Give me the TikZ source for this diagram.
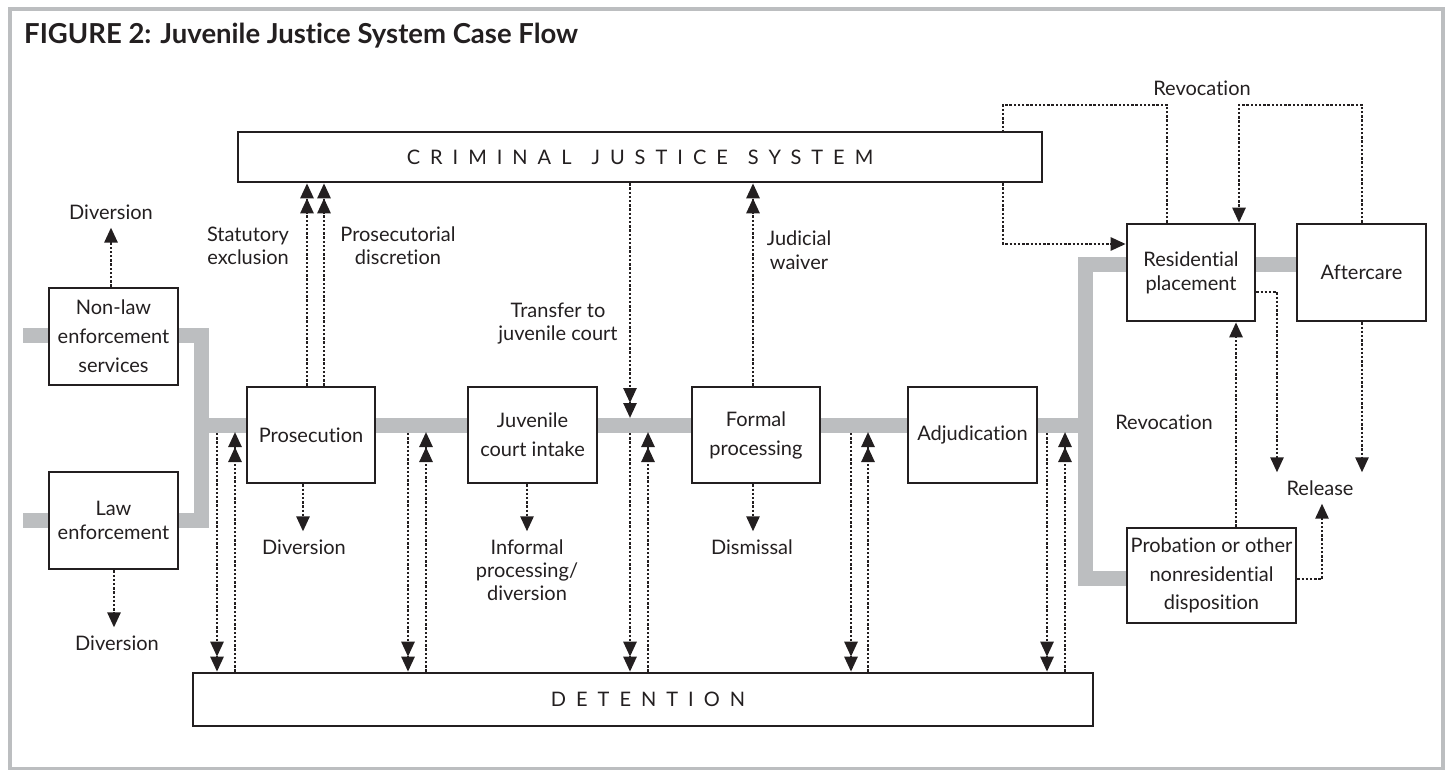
\documentclass[tikz,border=0pt]{standalone}
\usepackage{fontspec}
\setmainfont{Lato}[Ligatures=NoCommon]
\usetikzlibrary{arrows.meta}
\pgfdeclarelayer{bg}
\pgfsetlayers{bg,main}
\definecolor{flowgray}{HTML}{BCBEC0}
\definecolor{ink}{HTML}{231F20}
\tikzset{
  box/.style={draw=ink, line width=2.6pt, fill=white, align=center, inner sep=0pt, text=ink},
  lbl/.style={align=center, inner xsep=0pt, inner ysep=8pt, text=ink},
  dots/.style={draw=ink, line width=2.6pt, dash pattern=on 2.4pt off 1.8pt},
  tipone/.style={-{Triangle[length=15pt,width=13pt]}},
  tiptwo/.style={-{Triangle[length=15pt,width=13pt,sep=0pt]Triangle[length=15pt,width=13pt]}},
  flow/.style={draw=flowgray, line width=15pt, line join=miter},
  spaced/.style={font=\fontsize{20}{23}\selectfont\addfontfeature{LetterSpace=50}}
}
\begin{document}
\begin{tikzpicture}[x=1pt,y=-1pt,font=\fontsize{20}{23}\selectfont]
\useasboundingbox (0,0) rectangle (1448,770);

% title
\node[anchor=base west, inner sep=0pt, text=ink, font=\bfseries\fontsize{27.5}{32}\selectfont] (title) at (24,44) {FIGURE 2: Juvenile Justice System Case Flow};

% boxes
\node[box, minimum width=804pt, minimum height=50pt] (cjs) at (640,157) {};
\node[spaced, text=ink, inner sep=0pt] (cjst) at (cjs.center) {CRIMINAL\hspace{20pt}JUSTICE\hspace{20pt}SYSTEM};
\node[box, minimum width=900pt, minimum height=53pt] (det) at (643,699.5) {};
\node[spaced, text=ink, inner sep=0pt] (dett) at (648,699.5) {DETENTION};

\node[box, minimum width=129pt, minimum height=97pt] (nle) at (113.5,336.5) {Non-law\\[6pt]enforcement\\[6pt]services};
\node[box, minimum width=129pt, minimum height=97pt] (le) at (113.5,520.5) {Law\\[1pt]enforcement};
\node[box, minimum width=128pt, minimum height=96pt] (pros) at (311,435) {Prosecution};
\node[box, minimum width=129pt, minimum height=96pt] (intake) at (532.5,435) {Juvenile\\[6pt]court intake};
\node[box, minimum width=128pt, minimum height=96pt] (formal) at (756,435) {Formal\\[6pt]processing};
\node[box, minimum width=129pt, minimum height=96pt] (adj) at (972.5,435) {Adjudication};
\node[box, minimum width=128pt, minimum height=97pt] (res) at (1191,272.5) {Residential\\[1pt]placement};
\node[box, minimum width=129pt, minimum height=97pt] (after) at (1361.5,272.5) {Aftercare};
\node[box, minimum width=169pt, minimum height=95pt] (prob) at (1211.5,575.5) {Probation or other\\[5.5pt]nonresidential\\[5.5pt]disposition};

% labels
\node[lbl] (div1) at (111,212) {Diversion};
\node[lbl] (div2) at (117,643) {Diversion};
\node[lbl] (div3) at (304,547) {Diversion};
\node[lbl] (inf) at (527,570) {Informal\\processing/\\diversion};
\node[lbl] (dis) at (752,547) {Dismissal};
\node[lbl, align=right, anchor=east] (stat) at (289,246) {Statutory\\exclusion};
\node[lbl] (prd) at (398,246) {Prosecutorial\\discretion};
\node[lbl] (trf) at (558,324) {Transfer to\\juvenile court};
\node[lbl] (jud) at (799,250) {Judicial\\[1pt]waiver};
\node[lbl] (rev1) at (1202,88) {Revocation};
\node[lbl] (rev2) at (1164,422) {Revocation};
\node[lbl] (rel) at (1320,488) {Release};

% helper coordinates
\coordinate (inA) at (23,335);
\coordinate (inB) at (23,520);
\coordinate (j1) at (201,425);
\coordinate (j2) at (1085,425);
\coordinate (rA) at (1085,264);
\coordinate (rB) at (1085,578);

% gray flow and frame
\begin{pgfonlayer}{bg}
\draw[flowgray, line width=4pt] (10,9.5) rectangle (1442.5,768.5);
\draw[flow] (inA) -- (inA -| nle.west);
\draw[flow] (inB) -- (inB -| le.west);
\draw[flow] (inA -| nle.east) -| (j1) |- (inB -| le.east);
\draw[flow] (j1) -- (j2);
\draw[flow] (rA -| res.west) -- (rA) -- (rB) -- (rB -| prob.west);
\draw[flow] (rA -| res.east) -- (rA -| after.west);
\end{pgfonlayer}

% diversion-type arrows
\coordinate (dvA) at (111,0);
\coordinate (dvB) at (114,0);
\coordinate (dvC) at (303,0);
\coordinate (dvD) at (527,0);
\coordinate (jw) at (753,0);
\draw[dots,tipone] (dvA |- nle.north) -- (dvA |- div1.south);
\draw[dots,tipone] (dvB |- le.south) -- (dvB |- div2.north);
\draw[dots,tipone] (dvC |- pros.south) -- (dvC |- div3.north);
\draw[dots,tipone] (dvD |- intake.south) -- (dvD |- inf.north);
\draw[dots,tipone] (jw |- formal.south) -- (jw |- dis.north);

% to criminal justice system
\coordinate (sx1) at (307,0);
\coordinate (sx2) at (324,0);
\draw[dots,tiptwo] (sx1 |- pros.north) -- (sx1 |- cjs.south);
\draw[dots,tiptwo] (sx2 |- pros.north) -- (sx2 |- cjs.south);
\draw[dots,tiptwo] (jw |- formal.north) -- (jw |- cjs.south);
\coordinate (tr) at (630,418);
\draw[dots,tiptwo] (tr |- cjs.south) -- (tr);

% detention pairs
\foreach \a/\b [count=\i] in {217/235,408/426,630/648,851/868,1047/1065}{
  \coordinate (dn\i) at (\a,433);
  \coordinate (up\i) at (\b,432);
  \draw[dots,tiptwo] (dn\i) -- (dn\i |- det.north);
  \draw[dots,tiptwo] (up\i |- det.north) -- (up\i);
}

% revocation paths
\coordinate (rvA) at (1167,105);
\coordinate (rvB) at (1003,244);
\draw[dots] (rvA |- res.north) -- (rvA) -| (rvB |- cjs.north);
\draw[dots,tipone] (rvB |- cjs.south) -- (rvB) -- (rvB -| res.west);
\coordinate (rvC) at (1239,105);
\coordinate (rvD) at (1362,105);
\draw[dots,tipone] (rvD |- after.north) -- (rvD) -- (rvC) -- (rvC |- res.north);
\coordinate (rvE) at (1236,0);
\draw[dots,tipone] (rvE |- prob.north) -- (rvE |- res.south);

% release
\coordinate (rl1) at (1277,292);
\coordinate (rl2) at (1362,0);
\coordinate (rl3) at (1322,579);
\draw[dots,tipone] (res.east |- rl1) -- (rl1) -- (rl1 |- rel.north);
\draw[dots,tipone] (rl2 |- after.south) -- (rl2 |- rel.north);
\draw[dots,tipone] (prob.east |- rl3) -- (rl3) -- (rl3 |- rel.south);
\end{tikzpicture}
\end{document}
